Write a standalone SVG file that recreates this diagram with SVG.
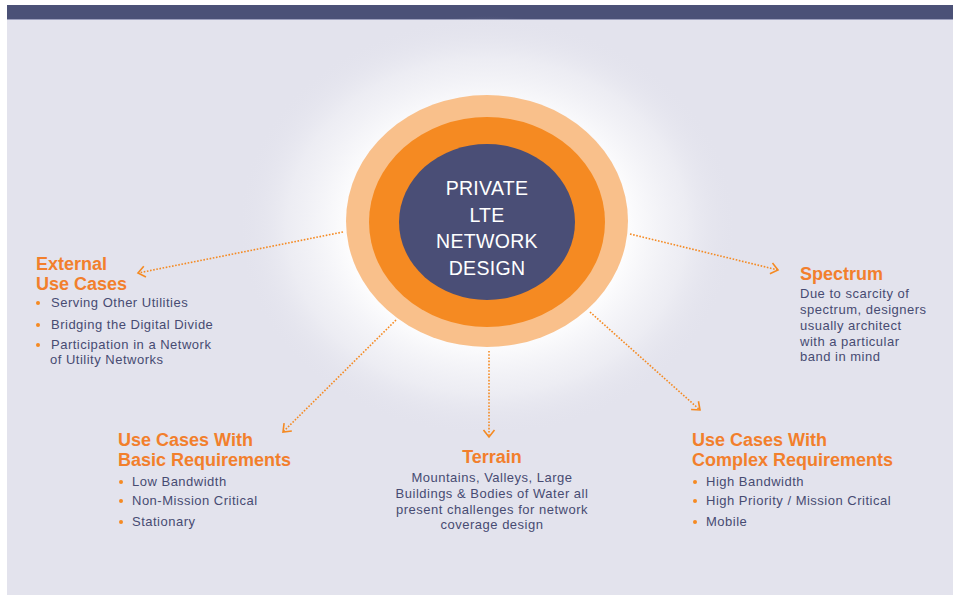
<svg xmlns="http://www.w3.org/2000/svg" width="955" height="597" viewBox="0 0 955 597">
  <defs>
    <radialGradient id="halo" cx="50%" cy="50%" r="50%">
      <stop offset="0" stop-color="#ffffff" stop-opacity="1"/>
      <stop offset="0.55" stop-color="#ffffff" stop-opacity="0.95"/>
      <stop offset="0.8" stop-color="#f6f6f9" stop-opacity="0.5"/>
      <stop offset="1" stop-color="#e3e3ed" stop-opacity="0"/>
    </radialGradient>
    <marker id="chevron" viewBox="-10 -7 12 14" markerWidth="12" markerHeight="14" refX="0" refY="0" orient="auto" markerUnits="userSpaceOnUse">
      <path d="M-7,-5.5 L0,0 L-7,5.5" fill="none" stroke="#f58a22" stroke-width="1.6"/>
    </marker>
    <style>
      .head { font-family: "Liberation Sans", Arial, sans-serif; font-weight: bold; font-size: 18px; fill: #f27f2c; }
      .body { font-family: "Liberation Sans", Arial, sans-serif; font-size: 13px; letter-spacing: 0.5px; fill: #474b72; }
      .core { font-family: "Liberation Sans", Arial, sans-serif; font-size: 19.5px; letter-spacing: 0.3px; fill: #ffffff; text-anchor: middle; }
      .dot { fill: #f58a22; }
      .link { fill: none; stroke: #f58a22; stroke-width: 1.6; stroke-dasharray: 1.6 1.6; marker-end: url(#chevron); }
    </style>
  </defs>

  <!-- frame -->
  <rect x="0" y="0" width="955" height="597" fill="#ffffff"/>
  <rect x="7" y="19" width="946" height="576" fill="#e3e3ed"/>
  <rect x="7" y="5" width="946" height="14" fill="#4b5177"/>
  <rect x="7" y="19" width="946" height="1" fill="#9da0bd"/>

  <!-- soft halo behind the core -->
  <ellipse cx="487" cy="226" rx="250" ry="210" fill="url(#halo)"/>

  <!-- core rings -->
  <g id="core">
    <ellipse cx="487" cy="221" rx="141" ry="126" fill="#f9c08b"/>
    <ellipse cx="487" cy="222" rx="118" ry="105" fill="#f58a22"/>
    <ellipse cx="487" cy="222" rx="88" ry="78" fill="#4a4e76"/>
    <text class="core" x="487" y="195">PRIVATE</text>
    <text class="core" x="487" y="222">LTE</text>
    <text class="core" x="487" y="248">NETWORK</text>
    <text class="core" x="487" y="275">DESIGN</text>
  </g>

  <!-- connectors -->
  <g id="connectors">
    <path class="link" d="M343,232 L138,273"/>
    <path class="link" d="M630,234 L778,270"/>
    <path class="link" d="M396,320 L283,432"/>
    <path class="link" d="M489,351 L489,437"/>
    <path class="link" d="M590,312 L700,410"/>
  </g>

  <g id="external">
    <text class="head" x="36" y="270">External</text>
    <text class="head" x="36" y="290">Use Cases</text>
    <circle class="dot" cx="38" cy="303" r="2"/>
    <text class="body" x="51" y="307">Serving Other Utilities</text>
    <circle class="dot" cx="38" cy="325" r="2"/>
    <text class="body" x="51" y="329">Bridging the Digital Divide</text>
    <circle class="dot" cx="38" cy="345" r="2"/>
    <text class="body" x="51" y="349">Participation in a Network</text>
    <text class="body" x="50" y="364">of Utility Networks</text>
  </g>

  <g id="spectrum">
    <text class="head" x="800" y="280">Spectrum</text>
    <text class="body" x="800" y="298">Due to scarcity of</text>
    <text class="body" x="800" y="314">spectrum, designers</text>
    <text class="body" x="800" y="330">usually architect</text>
    <text class="body" x="800" y="346">with a particular</text>
    <text class="body" x="800" y="361">band in mind</text>
  </g>

  <g id="basic">
    <text class="head" x="118" y="446">Use Cases With</text>
    <text class="head" x="118" y="466">Basic Requirements</text>
    <circle class="dot" cx="121" cy="482" r="2"/>
    <text class="body" x="132" y="486">Low Bandwidth</text>
    <circle class="dot" cx="121" cy="501" r="2"/>
    <text class="body" x="132" y="505">Non-Mission Critical</text>
    <circle class="dot" cx="121" cy="522" r="2"/>
    <text class="body" x="132" y="526">Stationary</text>
  </g>

  <g id="terrain">
    <text class="head" x="492" y="463" text-anchor="middle">Terrain</text>
    <text class="body" x="492" y="482" text-anchor="middle">Mountains, Valleys, Large</text>
    <text class="body" x="492" y="498" text-anchor="middle">Buildings &amp; Bodies of Water all</text>
    <text class="body" x="492" y="514" text-anchor="middle">present challenges for network</text>
    <text class="body" x="492" y="529" text-anchor="middle">coverage design</text>
  </g>

  <g id="complex">
    <text class="head" x="692" y="446">Use Cases With</text>
    <text class="head" x="692" y="466">Complex Requirements</text>
    <circle class="dot" cx="695" cy="482" r="2"/>
    <text class="body" x="706" y="486">High Bandwidth</text>
    <circle class="dot" cx="695" cy="501" r="2"/>
    <text class="body" x="706" y="505">High Priority / Mission Critical</text>
    <circle class="dot" cx="695" cy="522" r="2"/>
    <text class="body" x="706" y="526">Mobile</text>
  </g>
</svg>
